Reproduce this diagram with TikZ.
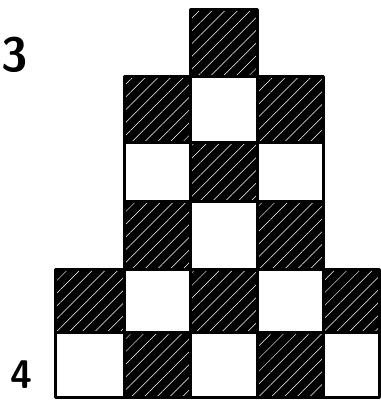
\documentclass[tikz,border=0pt]{standalone}
\usepackage{tikz}
\usetikzlibrary{patterns.meta}
\begin{document}
\begin{tikzpicture}[
    x=1pt,y=1pt,
    cell/.style={draw=black,line width=3pt,line join=round},
    dark/.style={cell,preaction={fill=black},
      pattern={Lines[angle=45,distance=9pt,line width=0.5pt]},pattern color=white},
    light/.style={cell,fill=white},
    digit/.style={font=\sffamily\bfseries\fontsize{40}{40}\selectfont,inner sep=0pt}
  ]
    \useasboundingbox (0,0) rectangle (380,401);
    % edges of the columns and rows, measured from the top left corner
    \def\xs{{55,124,190,257,323,379}}
    \def\ys{{10,77,143,202,270,333,398}}
    \foreach \r/\first/\last in {1/3/3,2/2/4,3/2/4,4/2/4,5/1/5,6/1/5}{
      \foreach \c in {\first,...,\last}{
        \pgfmathsetmacro\xl{\xs[\c-1]}
        \pgfmathsetmacro\xr{\xs[\c]}
        \pgfmathsetmacro\yt{401-\ys[\r-1]}
        \pgfmathsetmacro\yb{401-\ys[\r]}
        \pgfmathtruncatemacro\tot{\r+\c}
        \ifodd\tot
          \draw[light] (\xl,\yt) rectangle (\xr,\yb);
        \else
          \draw[dark] (\xl,\yt) rectangle (\xr,\yb);
        \fi
      }
    }
    \node[digit,anchor=west,font=\sffamily\bfseries\fontsize{48}{48}\selectfont] (three) at (1,346) {3};
    \node[digit] (four) at (21,26) {4};
\end{tikzpicture}
\end{document}
